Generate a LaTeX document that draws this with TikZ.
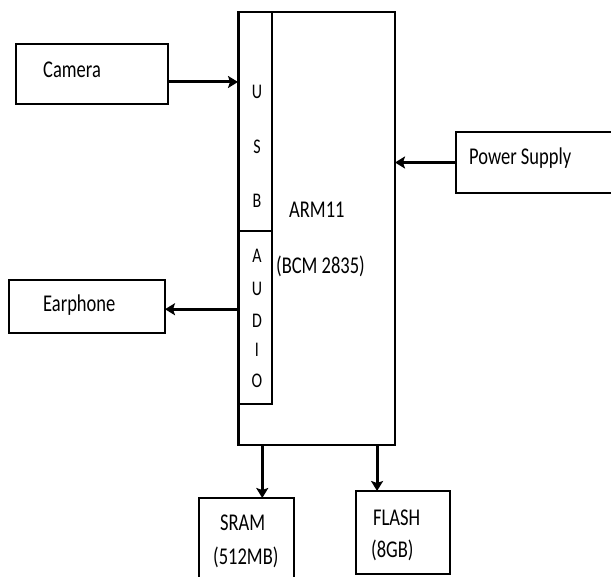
\documentclass[tikz,border=0pt]{standalone}
\usepackage{fontspec}
\setmainfont{Carlito}
\usepackage{graphicx}
\usetikzlibrary{positioning,arrows.meta}
\newcommand{\tall}[1]{\scalebox{1}[1.3]{#1}}

\begin{document}
\begin{tikzpicture}[x=1pt, y=-1pt,
  box/.style={draw, line width=1.4pt, inner sep=0pt, outer sep=0pt},
  lbl/.style={font=\fontsize{18.5}{20}\selectfont, inner sep=0pt, anchor=base west},
  ltr/.style={font=\fontsize{16}{18}\selectfont, inner sep=0pt, anchor=base},
  arr/.style={-{Stealth[length=10pt,width=12pt,inset=2pt]}, line width=3pt}
]
\useasboundingbox (0,0) rectangle (611,577);
\clip (0,0) rectangle (611,577);
% boxes
\node[box, minimum width=157pt, minimum height=433pt] (arm)   at (316.5,228.5) {};
\node[box, minimum width=34pt,  minimum height=219pt] (usb)   at (255,121.5) {};
\node[box, minimum width=34pt,  minimum height=173pt] (audio) at (255,317.5) {};
\draw[line width=3pt] (arm.north west) -- (arm.south west);
\node[box, minimum width=152pt, minimum height=60pt] (cam)   at (92,74) {};
\node[box, minimum width=169pt, minimum height=61pt] (pwr)   at (540.5,162.5) {};
\node[box, minimum width=156pt, minimum height=53pt] (ear)   at (87,306.5) {};
\node[box, minimum width=95pt,  minimum height=97pt] (sram)  at (246.5,546.5) {};
\node[box, minimum width=94pt,  minimum height=83pt] (flash) at (403,532.5) {};
% texts
\node[lbl] (camtxt)   at (43,78)   {\tall{Camera}};
\node[lbl] (pwrtxt)   at (469,165) {\tall{Power Supply}};
\node[lbl] (eartxt)   at (43,312)  {\tall{Earphone}};
\node[lbl] (armtxt)   at (289,218) {\tall{ARM11}};
\node[lbl] (bcmtxt)   at (276,274) {\tall{(BCM 2835)}};
\node[lbl] (sramtxt)  at (220,530) {\tall{SRAM}};
\node[lbl] (sramsz)   at (213,564) {\tall{(512MB)}};
\node[lbl] (flashtxt) at (373,525) {\tall{FLASH}};
\node[lbl] (flashsz)  at (371,557) {\tall{(8GB)}};
\foreach \c/\yy [count=\i] in {U/99,S/154,B/208,A/263,U/296,D/328,I/357,O/388}
  \node[ltr] (ch\i) at (257,\yy) {\tall{\c}};
% connections
\draw[arr] (cam.-6) -- (cam.-6 -| arm.west);
\draw[arr] (pwr.west) -- (pwr.west -| arm.east);
\draw[arr] (ear.-2 -| arm.west) -- (ear.-2);
\draw[arr] (sram.72 |- arm.south) -- (sram.72);
\draw[arr] (flash.122 |- arm.south) -- (flash.122);
\end{tikzpicture}
\end{document}
